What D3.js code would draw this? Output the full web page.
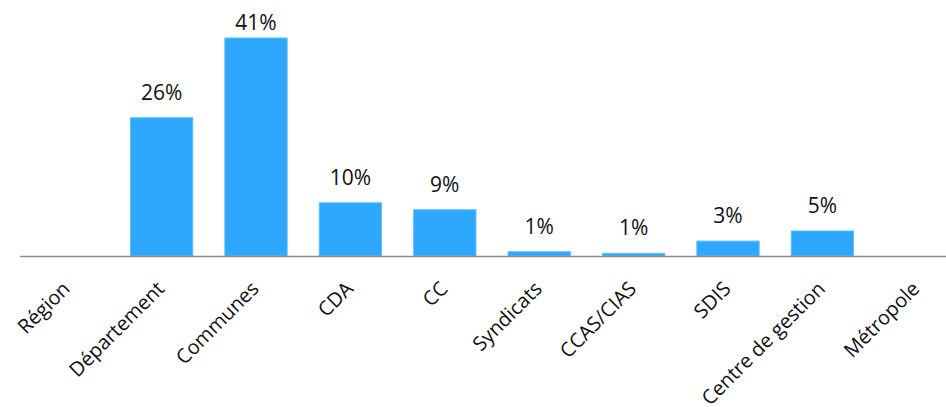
<!DOCTYPE html>
<html lang="fr">
<head>
  <meta charset="UTF-8">
  <title>Répartition par type de collectivité</title>
  <script src="https://d3js.org/d3.v7.min.js"></script>
  <style>
    body { margin: 0; background: #fff; font-family: "Open Sans", "Liberation Sans", sans-serif; }
    .bar { fill: #2ea8ff; stroke: #5dbcff; stroke-width: 1; }
    .value-label { font-size: 21px; fill: #111; text-anchor: middle; }
    .cat-label { font-size: 20px; fill: #111; text-anchor: end; }
  </style>
</head>
<body>
  <script>
    const categories = ["Région", "Département", "Communes", "CDA", "CC", "Syndicats",
                        "CCAS/CIAS", "SDIS", "Centre de gestion", "Métropole"];
    const values = [0, 26, 41, 10, 8.7, 0.8, 0.5, 2.8, 4.7, 0];
    const valueLabels = ["", "26%", "41%", "10%", "9%", "1%", "1%", "3%", "5%", ""];

    const width = 946, height = 407;
    const baseY = 256;

    const svg = d3.select("body").append("svg")
      .attr("width", width)
      .attr("height", height);

    const x = d3.scaleBand()
      .domain(categories)
      .range([20, 964])
      .paddingInner(0.34)
      .paddingOuter(0.17);

    const y = d3.scaleLinear()
      .domain([0, 41])
      .range([baseY, 38]);

    const data = categories.map((c, i) => ({ cat: c, value: values[i], label: valueLabels[i] }));

    // barres
    svg.selectAll(".bar")
      .data(data.filter(d => d.value > 0))
      .enter().append("rect")
        .attr("class", "bar")
        .attr("x", d => x(d.cat))
        .attr("y", d => y(d.value))
        .attr("width", x.bandwidth())
        .attr("height", d => baseY - y(d.value));

    // étiquettes de valeur
    svg.selectAll(".value-label")
      .data(data.filter(d => d.label))
      .enter().append("text")
        .attr("class", "value-label")
        .attr("x", d => x(d.cat) + x.bandwidth() / 2)
        .attr("y", d => Math.max(y(d.value) - 18, 30))
        .text(d => d.label);

    // axe
    svg.append("line")
      .attr("x1", 20).attr("x2", 946)
      .attr("y1", baseY + 0.5).attr("y2", baseY + 0.5)
      .attr("stroke", "#8c8c8c")
      .attr("stroke-width", 1.5);

    // catégories
    svg.selectAll(".cat-label")
      .data(categories)
      .enter().append("text")
        .attr("class", "cat-label")
        .attr("transform", d => {
          const cx = x(d) + x.bandwidth() / 2 + 4;
          return `translate(${cx},${baseY + 34}) rotate(-45)`;
        })
        .text(d => d);
  </script>
</body>
</html>
